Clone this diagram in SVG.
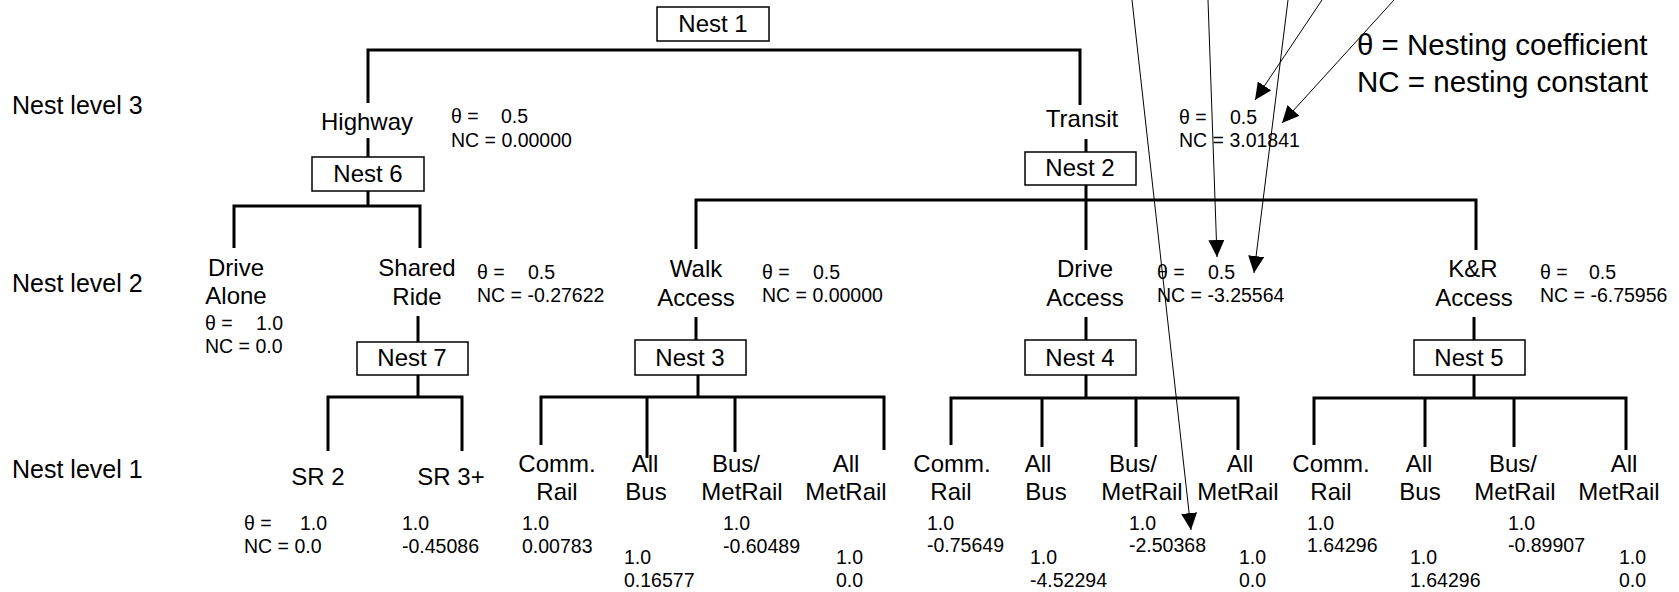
<svg xmlns="http://www.w3.org/2000/svg" width="1679" height="592" viewBox="0 0 1679 592">
<style>
text{font-family:"Liberation Sans",Arial,sans-serif;fill:#000}
.big{font-size:25px}
.mid{font-size:24px;text-anchor:middle}
.sm{font-size:19.5px}
.leg{font-size:29.5px}
.box{fill:#fff;stroke:#000;stroke-width:1.5}
.tree{fill:none;stroke:#000;stroke-width:3}
.arr{fill:none;stroke:#000;stroke-width:1}
</style>
<defs>
<marker id="ah" markerUnits="userSpaceOnUse" markerWidth="18" markerHeight="16" refX="17" refY="8" orient="auto">
<path d="M0,0 L17,8 L0,16 Z" fill="#000"/>
</marker>
</defs>
<rect width="1679" height="592" fill="#fff"/>

<g id="connectors">
<path class="tree" d="M368,103 V50 H1080 V105"/>
<path class="tree" d="M368,138 V157"/>
<path class="tree" d="M1086,139 V152"/>
<path class="tree" d="M368,191 V206"/>
<path class="tree" d="M234,248 V206 H420 V248"/>
<path class="tree" d="M1086,185 V200"/>
<path class="tree" d="M696,249 V200 H1476 V250"/>
<path class="tree" d="M1086,200 V250"/>
<path class="tree" d="M418,316 V342"/>
<path class="tree" d="M418,375 V397"/>
<path class="tree" d="M328,451 V397 H462 V451"/>
<path class="tree" d="M696,317 V340"/>
<path class="tree" d="M698,375 V397"/>
<path class="tree" d="M541,445 V397 H884 V450"/>
<path class="tree" d="M647,397 V458"/>
<path class="tree" d="M735,397 V452"/>
<path class="tree" d="M1086,317 V340"/>
<path class="tree" d="M1086,375 V398"/>
<path class="tree" d="M951,445 V398 H1238 V450"/>
<path class="tree" d="M1042,398 V447"/>
<path class="tree" d="M1136,398 V447"/>
<path class="tree" d="M1474,317 V340"/>
<path class="tree" d="M1474,375 V398"/>
<path class="tree" d="M1314,445 V398 H1626 V450"/>
<path class="tree" d="M1425,398 V447"/>
<path class="tree" d="M1514,398 V447"/>
<line class="arr" x1="1132" y1="0" x2="1191" y2="530" marker-end="url(#ah)"/>
<line class="arr" x1="1208" y1="0" x2="1217" y2="257" marker-end="url(#ah)"/>
<line class="arr" x1="1288" y1="0" x2="1254" y2="273" marker-end="url(#ah)"/>
<line class="arr" x1="1322" y1="0" x2="1255" y2="100" marker-end="url(#ah)"/>
<line class="arr" x1="1394" y1="0" x2="1282" y2="123" marker-end="url(#ah)"/>
</g>

<g id="levels">
<text class="big" x="12" y="114">Nest level 3</text>
<text class="big" x="12" y="292">Nest level 2</text>
<text class="big" x="12" y="478">Nest level 1</text>
</g>

<g id="legend">
<text class="leg" x="1357" y="55">θ = Nesting coefficient</text>
<text class="leg" x="1357" y="92">NC = nesting constant</text>
</g>

<g id="nest1">
<rect class="box" x="657" y="7" width="112" height="34"/>
<text class="mid" x="713" y="32">Nest 1</text>
</g>

<g id="highway">
<text class="mid" x="367" y="130">Highway</text>
<text class="sm" x="451" y="123">θ =<tspan x="501">0.5</tspan></text>
<text class="sm" x="451" y="147">NC = 0.00000</text>
</g>

<g id="transit">
<text class="mid" x="1082" y="127">Transit</text>
<text class="sm" x="1179" y="124">θ =<tspan x="1230">0.5</tspan></text>
<text class="sm" x="1179" y="147">NC = 3.01841</text>
</g>

<g id="nest6">
<rect class="box" x="312" y="157" width="112" height="34"/>
<text class="mid" x="368" y="182">Nest 6</text>
</g>

<g id="nest2">
<rect class="box" x="1025" y="152" width="111" height="33"/>
<text class="mid" x="1080" y="176">Nest 2</text>
</g>

<g id="drive-alone">
<text class="mid" x="236" y="276">Drive</text>
<text class="mid" x="236" y="304">Alone</text>
<text class="sm" x="205" y="330">θ =<tspan x="256">1.0</tspan></text>
<text class="sm" x="205" y="353">NC = 0.0</text>
</g>

<g id="shared-ride">
<text class="mid" x="417" y="276">Shared</text>
<text class="mid" x="417" y="305">Ride</text>
<text class="sm" x="477" y="279">θ =<tspan x="528">0.5</tspan></text>
<text class="sm" x="477" y="302">NC = -0.27622</text>
</g>

<g id="walk-access">
<text class="mid" x="696" y="277">Walk</text>
<text class="mid" x="696" y="306">Access</text>
<text class="sm" x="762" y="279">θ =<tspan x="813">0.5</tspan></text>
<text class="sm" x="762" y="302">NC = 0.00000</text>
</g>

<g id="drive-access">
<text class="mid" x="1085" y="277">Drive</text>
<text class="mid" x="1085" y="306">Access</text>
<text class="sm" x="1157" y="279">θ =<tspan x="1208">0.5</tspan></text>
<text class="sm" x="1157" y="302">NC = -3.25564</text>
</g>

<g id="kr-access">
<text class="mid" x="1473" y="277">K&amp;R</text>
<text class="mid" x="1474" y="306">Access</text>
<text class="sm" x="1540" y="279">θ =<tspan x="1589">0.5</tspan></text>
<text class="sm" x="1540" y="302">NC = -6.75956</text>
</g>

<g id="nest7">
<rect class="box" x="357" y="342" width="111" height="33"/>
<text class="mid" x="412" y="366">Nest 7</text>
</g>
<g id="nest3">
<rect class="box" x="635" y="340" width="111" height="35"/>
<text class="mid" x="690" y="366">Nest 3</text>
</g>
<g id="nest4">
<rect class="box" x="1025" y="340" width="111" height="35"/>
<text class="mid" x="1080" y="366">Nest 4</text>
</g>
<g id="nest5">
<rect class="box" x="1414" y="340" width="111" height="35"/>
<text class="mid" x="1469" y="366">Nest 5</text>
</g>

<g id="sr2">
<text class="mid" x="318" y="485">SR 2</text>
<text class="sm" x="244" y="530">θ =<tspan x="300">1.0</tspan></text>
<text class="sm" x="244" y="553">NC = 0.0</text>
</g>
<g id="sr3">
<text class="mid" x="451" y="485">SR 3+</text>
<text class="sm" x="402" y="530">1.0</text>
<text class="sm" x="402" y="553">-0.45086</text>
</g>

<g id="walk-commrail">
<text class="mid" x="557" y="472">Comm.</text>
<text class="mid" x="557" y="500">Rail</text>
<text class="sm" x="522" y="530">1.0</text>
<text class="sm" x="522" y="553">0.00783</text>
</g>
<g id="walk-allbus">
<text class="mid" x="645" y="472">All</text>
<text class="mid" x="646" y="500">Bus</text>
<text class="sm" x="624" y="564">1.0</text>
<text class="sm" x="624" y="587">0.16577</text>
</g>
<g id="walk-busmetrail">
<text class="mid" x="736" y="472">Bus/</text>
<text class="mid" x="742" y="500">MetRail</text>
<text class="sm" x="723" y="530">1.0</text>
<text class="sm" x="723" y="553">-0.60489</text>
</g>
<g id="walk-allmetrail">
<text class="mid" x="846" y="472">All</text>
<text class="mid" x="846" y="500">MetRail</text>
<text class="sm" x="836" y="564">1.0</text>
<text class="sm" x="836" y="587">0.0</text>
</g>

<g id="drive-commrail">
<text class="mid" x="952" y="472">Comm.</text>
<text class="mid" x="951" y="500">Rail</text>
<text class="sm" x="927" y="530">1.0</text>
<text class="sm" x="927" y="552">-0.75649</text>
</g>
<g id="drive-allbus">
<text class="mid" x="1038" y="472">All</text>
<text class="mid" x="1046" y="500">Bus</text>
<text class="sm" x="1030" y="564">1.0</text>
<text class="sm" x="1030" y="587">-4.52294</text>
</g>
<g id="drive-busmetrail">
<text class="mid" x="1133" y="472">Bus/</text>
<text class="mid" x="1142" y="500">MetRail</text>
<text class="sm" x="1129" y="530">1.0</text>
<text class="sm" x="1129" y="552">-2.50368</text>
</g>
<g id="drive-allmetrail">
<text class="mid" x="1240" y="472">All</text>
<text class="mid" x="1238" y="500">MetRail</text>
<text class="sm" x="1239" y="564">1.0</text>
<text class="sm" x="1239" y="587">0.0</text>
</g>

<g id="kr-commrail">
<text class="mid" x="1331" y="472">Comm.</text>
<text class="mid" x="1331" y="500">Rail</text>
<text class="sm" x="1307" y="530">1.0</text>
<text class="sm" x="1307" y="552">1.64296</text>
</g>
<g id="kr-allbus">
<text class="mid" x="1419" y="472">All</text>
<text class="mid" x="1420" y="500">Bus</text>
<text class="sm" x="1410" y="564">1.0</text>
<text class="sm" x="1410" y="587">1.64296</text>
</g>
<g id="kr-busmetrail">
<text class="mid" x="1513" y="472">Bus/</text>
<text class="mid" x="1515" y="500">MetRail</text>
<text class="sm" x="1508" y="530">1.0</text>
<text class="sm" x="1508" y="552">-0.89907</text>
</g>
<g id="kr-allmetrail">
<text class="mid" x="1624" y="472">All</text>
<text class="mid" x="1619" y="500">MetRail</text>
<text class="sm" x="1619" y="564">1.0</text>
<text class="sm" x="1619" y="587">0.0</text>
</g>
</svg>
